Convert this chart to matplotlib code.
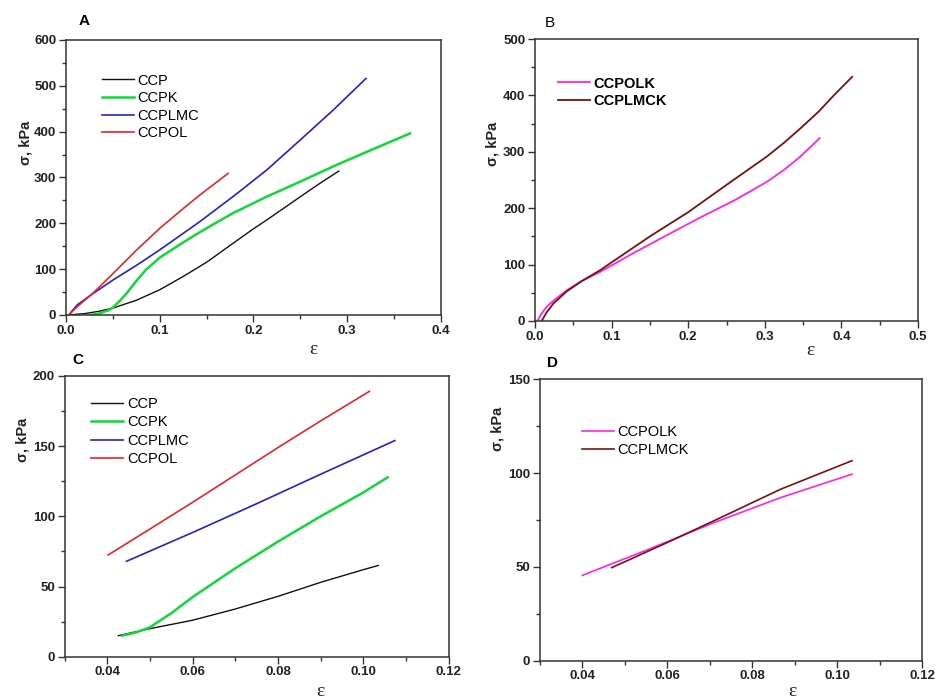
import matplotlib
matplotlib.use("Agg")
import matplotlib.pyplot as plt
from matplotlib.ticker import MultipleLocator, FormatStrFormatter

plt.rcParams['font.family'] = ['Liberation Sans', 'DejaVu Sans']

# ---------------- Panel A data ----------------
a_ccp_x = [0.003, 0.02, 0.035, 0.05, 0.075, 0.1, 0.125, 0.15, 0.178, 0.2, 0.214, 0.25, 0.27, 0.291]
a_ccp_y = [0, 3, 8, 15, 32, 55, 84, 115, 156, 188, 207, 258, 286, 314]
a_ccpk_x = [0.025, 0.035, 0.045, 0.05, 0.058, 0.065, 0.075, 0.085, 0.1, 0.121, 0.139, 0.16, 0.178, 0.214, 0.25, 0.285, 0.321, 0.367]
a_ccpk_y = [0, 3, 10, 16, 32, 48, 74, 98, 125, 153, 176, 201, 222, 258, 291, 324, 356, 396]
a_ccplmc_x = [0.003, 0.012, 0.029, 0.05, 0.075, 0.1, 0.125, 0.143, 0.178, 0.214, 0.25, 0.285, 0.32]
a_ccplmc_y = [0, 22, 47, 76, 108, 142, 178, 204, 258, 316, 382, 447, 516]
a_ccpol_x = [0.003, 0.012, 0.029, 0.05, 0.075, 0.1, 0.125, 0.143, 0.173]
a_ccpol_y = [0, 18, 48, 90, 141, 189, 232, 262, 309]

# ---------------- Panel B data ----------------
b_ccpolk_x = [0.003, 0.008, 0.015, 0.025, 0.041, 0.06, 0.085, 0.128, 0.172, 0.215, 0.259, 0.28, 0.303, 0.325, 0.346, 0.3715]
b_ccpolk_y = [0, 12, 25, 37, 54, 70, 87, 120, 152, 183, 213, 229, 247, 268, 291, 324]
b_ccplmck_x = [0.0087, 0.015, 0.024, 0.041, 0.06, 0.085, 0.1, 0.15, 0.2, 0.259, 0.28, 0.303, 0.325, 0.346, 0.37, 0.39, 0.414]
b_ccplmck_y = [0, 15, 31, 52, 70, 90, 104, 150, 193, 250, 270, 292, 316, 341, 371, 400, 433]

# ---------------- Panel C data ----------------
c_ccp_x = [0.0426, 0.05, 0.06, 0.07, 0.08, 0.09, 0.1, 0.1035]
c_ccp_y = [15, 20, 26, 34, 43, 53, 62, 65]
c_ccpk_x = [0.0435, 0.047, 0.05, 0.055, 0.06, 0.07, 0.08, 0.09, 0.1, 0.1057]
c_ccpk_y = [15, 17.5, 21, 31, 42.5, 63, 82, 100, 117, 127.8]
c_ccplmc_x = [0.0445, 0.06, 0.075, 0.09, 0.1074]
c_ccplmc_y = [68, 88.5, 109, 130, 154]
c_ccpol_x = [0.0402, 0.05, 0.06, 0.07, 0.08, 0.09, 0.1014]
c_ccpol_y = [72.5, 91, 110, 129.5, 149, 168, 189]

# ---------------- Panel D data ----------------
d_ccpolk_x = [0.040, 0.0552, 0.0709, 0.0868, 0.1035]
d_ccpolk_y = [45.5, 59, 73.5, 87, 99.4]
d_ccplmck_x = [0.0469, 0.06, 0.0709, 0.0868, 0.1035]
d_ccplmck_y = [49.6, 63, 74.5, 91.5, 106.6]

labels_4 = ["CCP", "CCPK", "CCPLMC", "CCPOL"]
labels_2 = ["CCPOLK", "CCPLMCK"]

C_BLACK = "#111111"
C_GREEN = "#10d838"
C_BLUE = "#2222c8"
C_RED = "#e8242a"
C_MAG = "#ff22ee"
C_BROWN = "#7a0f10"

fig = plt.figure(figsize=(9.37, 6.99), dpi=100)

axA = fig.add_axes([0.0704, 0.5494, 0.4002, 0.3934])
axB = fig.add_axes([0.5710, 0.5408, 0.4088, 0.4034])
axC = fig.add_axes([0.0690, 0.0605, 0.4098, 0.4016])
axD = fig.add_axes([0.5763, 0.0548, 0.4077, 0.4026])

def style(ax, xlim, ylim, xmaj, xmin, ymaj, ymin, xfmt):
    ax.set_xlim(*xlim)
    ax.set_ylim(*ylim)
    ax.xaxis.set_major_locator(MultipleLocator(xmaj))
    ax.xaxis.set_minor_locator(MultipleLocator(xmin))
    ax.yaxis.set_major_locator(MultipleLocator(ymaj))
    ax.yaxis.set_minor_locator(MultipleLocator(ymin))
    ax.xaxis.set_major_formatter(FormatStrFormatter(xfmt))
    ax.tick_params(which='both', direction='out', top=False, right=False,
                   color='#333333', width=1.0)
    ax.tick_params(which='major', length=5, labelsize=9.5, pad=2)
    ax.tick_params(which='minor', length=3)
    for lab in ax.get_xticklabels() + ax.get_yticklabels():
        lab.set_fontweight('bold')
        lab.set_color('#222222')
    for s in ax.spines.values():
        s.set_linewidth(1.1)
        s.set_color('#333333')

def labels(ax, yl_pos, eps_pos):
    ax.text(yl_pos[0], yl_pos[1], "σ, kPa", transform=ax.transAxes, rotation=90,
            ha='center', va='center', fontsize=10.5, fontweight='bold', color='#222222')
    ax.text(eps_pos[0], eps_pos[1], "ε", transform=ax.transAxes, ha='center', va='center',
            fontsize=14, family='Liberation Serif', color='#222222')

leg_kw = dict(loc='upper left', frameon=False, handlelength=2.2, handletextpad=0.25,
              borderpad=0, borderaxespad=0)

# Panel A
axA.plot(a_ccp_x, a_ccp_y, color=C_BLACK, lw=1.0, label=labels_4[0])
axA.plot(a_ccpk_x, a_ccpk_y, color=C_GREEN, lw=1.8, label=labels_4[1])
axA.plot(a_ccplmc_x, a_ccplmc_y, color=C_BLUE, lw=1.2, label=labels_4[2])
axA.plot(a_ccpol_x, a_ccpol_y, color=C_RED, lw=1.2, label=labels_4[3])
style(axA, (0, 0.4), (0, 600), 0.1, 0.05, 100, 50, '%.1f')
labels(axA, (-0.109, 0.625), (0.659, -0.127))
fig.text(84/937, 1-21/699, "A", fontsize=11, fontweight='bold', ha='center', va='center')
axA.legend(bbox_to_anchor=(0.096, 0.878), fontsize=10.5, labelspacing=0.25, **leg_kw)

# Panel B
axB.plot(b_ccpolk_x, b_ccpolk_y, color=C_MAG, lw=1.3, label=labels_2[0])
axB.plot(b_ccplmck_x, b_ccplmck_y, color=C_BROWN, lw=1.3, label=labels_2[1])
style(axB, (0, 0.5), (0, 500), 0.1, 0.05, 100, 50, '%.1f')
labels(axB, (-0.11, 0.628), (0.718, -0.103))
fig.text(550/937, 1-23/699, "B", fontsize=11, fontweight='normal', ha='center', va='center')
axB.legend(bbox_to_anchor=(0.060, 0.867), prop={'size': 10.5, 'weight': 'bold'},
           labelspacing=0.25, **leg_kw)

# Panel C
axC.plot(c_ccp_x, c_ccp_y, color=C_BLACK, lw=1.0, label=labels_4[0])
axC.plot(c_ccpk_x, c_ccpk_y, color=C_GREEN, lw=1.8, label=labels_4[1])
axC.plot(c_ccplmc_x, c_ccplmc_y, color=C_BLUE, lw=1.2, label=labels_4[2])
axC.plot(c_ccpol_x, c_ccpol_y, color=C_RED, lw=1.2, label=labels_4[3])
style(axC, (0.03, 0.12), (0, 200), 0.02, 0.01, 50, 25, '%.2f')
labels(axC, (-0.111, 0.772), (0.665, -0.125))
fig.text(78/937, 1-360/699, "C", fontsize=11, fontweight='bold', ha='center', va='center')
axC.legend(bbox_to_anchor=(0.0695, 0.925), fontsize=10.5, labelspacing=0.3, **leg_kw)

# Panel D
axD.plot(d_ccpolk_x, d_ccpolk_y, color=C_MAG, lw=1.2, label=labels_2[0])
axD.plot(d_ccplmck_x, d_ccplmck_y, color=C_BROWN, lw=1.2, label=labels_2[1])
style(axD, (0.03, 0.12), (0, 150), 0.02, 0.01, 50, 25, '%.2f')
labels(axD, (-0.11, 0.822), (0.66, -0.111))
fig.text(553/937, 1-363/699, "D", fontsize=11, fontweight='bold', ha='center', va='center')
axD.legend(bbox_to_anchor=(0.109, 0.8365), fontsize=10.5, labelspacing=0.25, **leg_kw)

fig.savefig("out.png", dpi=100)
